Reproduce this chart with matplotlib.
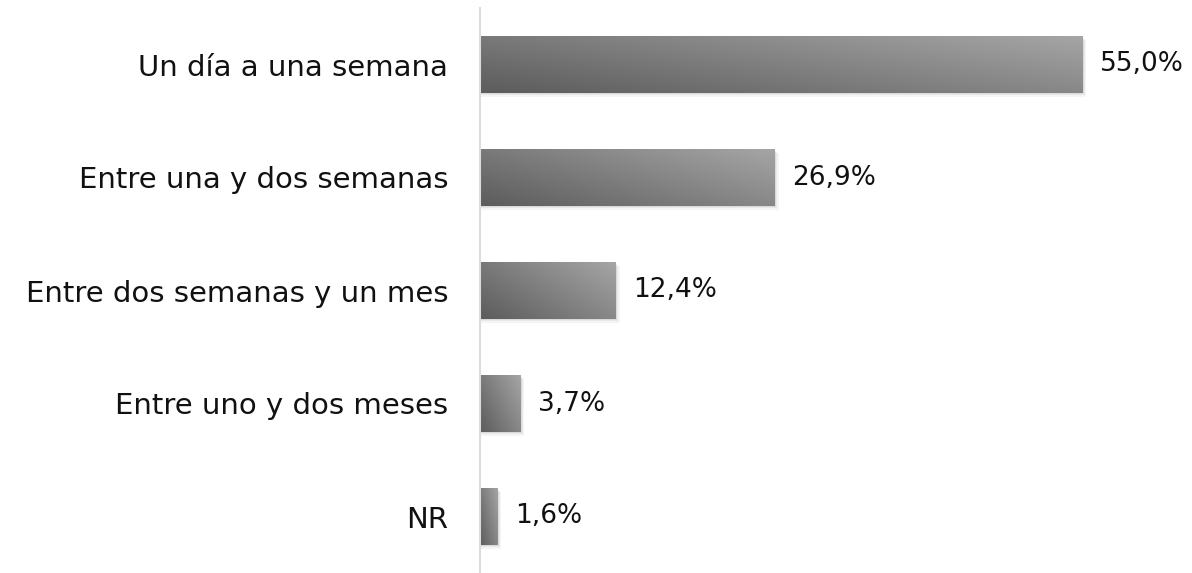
import matplotlib.pyplot as plt
import numpy as np
from matplotlib.colors import LinearSegmentedColormap
from matplotlib.patches import Rectangle

categories = ["Un día a una semana", "Entre una y dos semanas",
              "Entre dos semanas y un mes", "Entre uno y dos meses", "NR"]
values = [55.0, 26.9, 12.4, 3.7, 1.6]
value_labels = ["55,0%", "26,9%", "12,4%", "3,7%", "1,6%"]

plt.rcParams['font.family'] = ['DejaVu Sans']

fig = plt.figure(figsize=(11.92, 5.73), dpi=100)
ax = fig.add_axes([480/1192, 0, 1 - 480/1192, 565/573])

cmap = LinearSegmentedColormap.from_list("g", ["#5c5c5c", "#a5a5a5"])
h = 0.5
# gradient grid: dark bottom-left, light top-right
gx, gy = np.meshgrid(np.linspace(0, 1, 200), np.linspace(0, 1, 50))
grad = (gx * 0.6 + (1 - gy) * 0.4)

for i, v in enumerate(values):
    # soft shadow under each bar
    for k, a in enumerate([0.06, 0.05, 0.04]):
        off = 0.012 * (k + 1)
        ax.add_patch(Rectangle((0, i - h/2 + off), v + 0.12 * (k + 1), h,
                               color="black", alpha=a, lw=0, zorder=1))
    ax.imshow(grad, cmap=cmap, extent=(0, v, i + h/2, i - h/2),
              aspect="auto", zorder=2, interpolation="bilinear")
    ax.text(v + 1.6, i, value_labels[i], va="center", ha="left",
            fontsize=19, color="#111111")

ax.set_xlim(0, 65)
ax.set_ylim(4.5, -0.5)
ax.set_yticks(range(len(categories)))
ax.set_yticklabels(categories, fontsize=21, color="#111111")
ax.tick_params(axis="y", length=0, pad=23)
ax.set_xticks([])
for s in ["top", "right", "bottom"]:
    ax.spines[s].set_visible(False)
ax.spines["left"].set_color("#d9dde3")
ax.spines["left"].set_linewidth(1.5)

fig.savefig("out.png", dpi=100)
